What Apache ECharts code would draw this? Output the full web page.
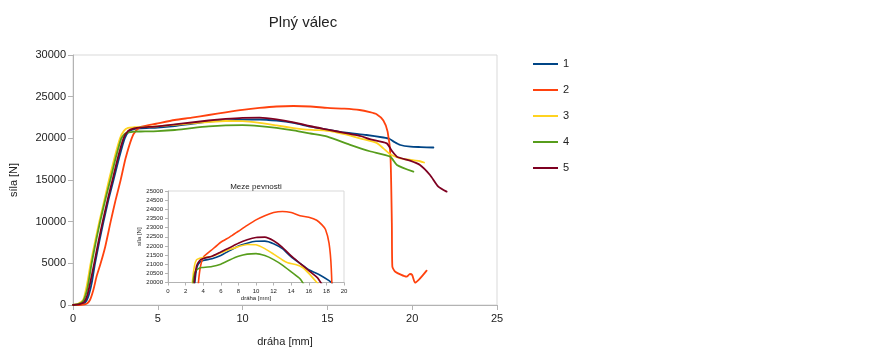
<!DOCTYPE html>
<html>
<head>
<meta charset="utf-8">
<script src="https://cdn.jsdelivr.net/npm/echarts@6/dist/echarts.min.js"></script>
<style>
  html, body { margin: 0; padding: 0; background: #fff; }
  #chart { width: 885px; height: 347px; }
</style>
</head>
<body>
<div id="chart"></div>
<script>
// Force vs. displacement for five solid cylinder specimens, as [dráha mm, síla N] pairs
const sample1 = [[0,0],[0.4,50],[0.7,250],[0.9,1000],[1.1,2600],[1.3,5000],[1.55,7600],[1.8,10000],[2.1,12700],[2.4,15100],[2.75,17900],[3.05,20000],[3.3,20850],[3.6,21100],[4,21200],[5,21300],[6,21480],[7,21740],[8,22000],[9,22150],[10,22250],[11,22260],[12,22120],[13,21850],[14,21400],[15,21050],[16,20700],[17.3,20400],[18.3,20100],[18.65,19950],[18.95,19550],[19.3,19200],[19.9,19000],[20.5,18950],[21.25,18900]];
const sample2 = [[0,0],[0.5,30],[0.8,150],[1.0,600],[1.2,1800],[1.4,3500],[1.63,5000],[1.9,7000],[2.22,10000],[2.5,12500],[2.81,15000],[3.1,17600],[3.46,20000],[3.7,20900],[4.05,21400],[4.9,21750],[6,22200],[7,22480],[8,22800],[9,23120],[10,23420],[11,23650],[12,23820],[13,23880],[14,23820],[15,23650],[16,23560],[16.9,23400],[17.5,23150],[17.9,22900],[18.3,22150],[18.55,20800],[18.72,17800],[18.8,9800],[18.83,4600],[19.0,4000],[19.67,3400],[19.87,3720],[20.0,3600],[20.17,2680],[20.85,4120]];
const sample3 = [[0,0],[0.3,150],[0.6,600],[0.8,2200],[1.04,5000],[1.3,7600],[1.55,10000],[1.85,12600],[2.12,15000],[2.45,17700],[2.77,20000],[3.0,20900],[3.25,21250],[3.6,21330],[4,21360],[5,21440],[6,21620],[7,21800],[8,21960],[9,22080],[10,22060],[11,21850],[12,21550],[13,21230],[13.6,21080],[14.5,20980],[15.3,20820],[16,20500],[17.1,19900],[17.9,19450],[18.3,18800],[18.7,18100],[19.3,17600],[20.1,17350],[20.46,17250],[20.7,17100]];
const sample4 = [[0,0],[0.3,100],[0.6,500],[0.85,2000],[1.1,5000],[1.35,7600],[1.6,10000],[1.9,12600],[2.2,15000],[2.5,17500],[2.85,20000],[3.1,20600],[3.6,20800],[4,20820],[5,20870],[6,21000],[7,21230],[8,21430],[9,21550],[10,21580],[11,21470],[12,21250],[13,20950],[14,20580],[15,20200],[16.3,19250],[17.5,18450],[18.7,17800],[19.1,16800],[20.07,16000]];
const sample5 = [[0,0],[0.35,80],[0.65,350],[0.85,1200],[1.05,3000],[1.25,5000],[1.5,7600],[1.75,10000],[2.05,12700],[2.33,15000],[2.65,17700],[2.98,20000],[3.25,20900],[3.6,21200],[4,21310],[5,21440],[6,21670],[7,21900],[8,22140],[9,22330],[10,22460],[11,22480],[12,22280],[13,21920],[14,21450],[15,21050],[16,20650],[17,20250],[17.5,19900],[18.5,19400],[18.8,18500],[19.1,17800],[19.87,17320],[20.46,16800],[21.05,15600],[21.54,14200],[22.03,13600]];

const seriesNames = ['1', '2', '3', '4', '5'];
const seriesData = [sample1, sample2, sample3, sample4, sample5];
const colors = ['#004586', '#ff420e', '#ffd320', '#579d1c', '#7e0021'];

const FONT = 'Liberation Sans, Arial, sans-serif';
const axisGray = '#b3b3b3';
const textCol = '#222';
const plain = v => String(v);

const chart = echarts.init(document.getElementById('chart'), null, { renderer: 'canvas' });

function makeSeries(axisIdx, width, z) {
  return seriesData.map((d, i) => ({
    name: seriesNames[i], type: 'line', data: d,
    xAxisIndex: axisIdx, yAxisIndex: axisIdx,
    showSymbol: false, smooth: 0.2, clip: true,
    lineStyle: { width: width, color: colors[i], join: 'round', cap: 'round' },
    itemStyle: { color: colors[i] },
    z: z
  }));
}

chart.setOption({
  animation: false,
  backgroundColor: '#fff',
  textStyle: { fontFamily: FONT },
  title: [
    { text: 'Plný válec', left: 298, top: 10, textAlign: 'center',
      textStyle: { fontFamily: FONT, fontSize: 15, fontWeight: 'normal', color: textCol } },
    { text: 'Meze pevnosti', left: 251, top: 178, textAlign: 'center',
      textStyle: { fontFamily: FONT, fontSize: 8, fontWeight: 'normal', color: textCol } }
  ],
  legend: {
    data: seriesNames.map((n, i) => ({ name: n, icon: 'rect', itemStyle: { color: colors[i] } })),
    orient: 'vertical', left: 528, top: 52,
    itemWidth: 25, itemHeight: 2, itemGap: 12,
    textStyle: { fontFamily: FONT, fontSize: 11, color: textCol, lineHeight: 14 }
  },
  graphic: [
    { type: 'rect', shape: { x: 136, y: 176, width: 216, height: 124 },
      style: { fill: '#fff' }, z: 4, silent: true }
  ],
  grid: [
    { left: 73, top: 55, width: 424, height: 250, show: true, borderColor: '#d9d9d9', borderWidth: 1,
      backgroundColor: 'transparent', outerBoundsMode: 'none', containLabel: false },
    { left: 168, top: 191, width: 176, height: 91.5, show: true, borderColor: '#d9d9d9', borderWidth: 1,
      backgroundColor: '#fff', z: 5, outerBoundsMode: 'none', containLabel: false }
  ],
  xAxis: [
    { type: 'value', gridIndex: 0, min: 0, max: 25, interval: 5,
      name: 'dráha [mm]', nameLocation: 'middle', nameGap: 31,
      nameTextStyle: { fontFamily: FONT, fontSize: 11, color: textCol },
      axisLine: { lineStyle: { color: axisGray } },
      axisTick: { show: true, length: 5, lineStyle: { color: axisGray } },
      axisLabel: { fontFamily: FONT, fontSize: 11, color: textCol, margin: 8, formatter: plain },
      splitLine: { show: false } },
    { type: 'value', gridIndex: 1, min: 0, max: 20, interval: 2,
      name: 'dráha [mm]', nameLocation: 'middle', nameGap: 12,
      nameTextStyle: { fontFamily: FONT, fontSize: 6, color: textCol },
      axisLine: { lineStyle: { color: axisGray } },
      axisTick: { show: true, length: 3, lineStyle: { color: axisGray } },
      axisLabel: { fontFamily: FONT, fontSize: 6, color: textCol, margin: 6, formatter: plain },
      splitLine: { show: false }, z: 6 }
  ],
  yAxis: [
    { type: 'value', gridIndex: 0, min: 0, max: 30000, interval: 5000,
      name: 'síla [N]', nameLocation: 'middle', nameGap: 54, nameRotate: 90,
      nameTextStyle: { fontFamily: FONT, fontSize: 11, color: textCol },
      axisLine: { show: true, lineStyle: { color: axisGray } },
      axisTick: { show: true, length: 5, lineStyle: { color: axisGray } },
      axisLabel: { fontFamily: FONT, fontSize: 11, color: textCol, margin: 7, formatter: plain },
      splitLine: { show: false } },
    { type: 'value', gridIndex: 1, min: 20000, max: 25000, interval: 500,
      name: 'síla [N]', nameLocation: 'middle', nameGap: 22, nameRotate: 90,
      nameTextStyle: { fontFamily: FONT, fontSize: 6, color: textCol },
      axisLine: { show: true, lineStyle: { color: axisGray } },
      axisTick: { show: true, length: 3, lineStyle: { color: axisGray } },
      axisLabel: { fontFamily: FONT, fontSize: 6, color: textCol, margin: 5, formatter: plain },
      splitLine: { show: false }, z: 6 }
  ],
  series: makeSeries(0, 1.8, 3).concat(makeSeries(1, 1.6, 6))
});
</script>
</body>
</html>
